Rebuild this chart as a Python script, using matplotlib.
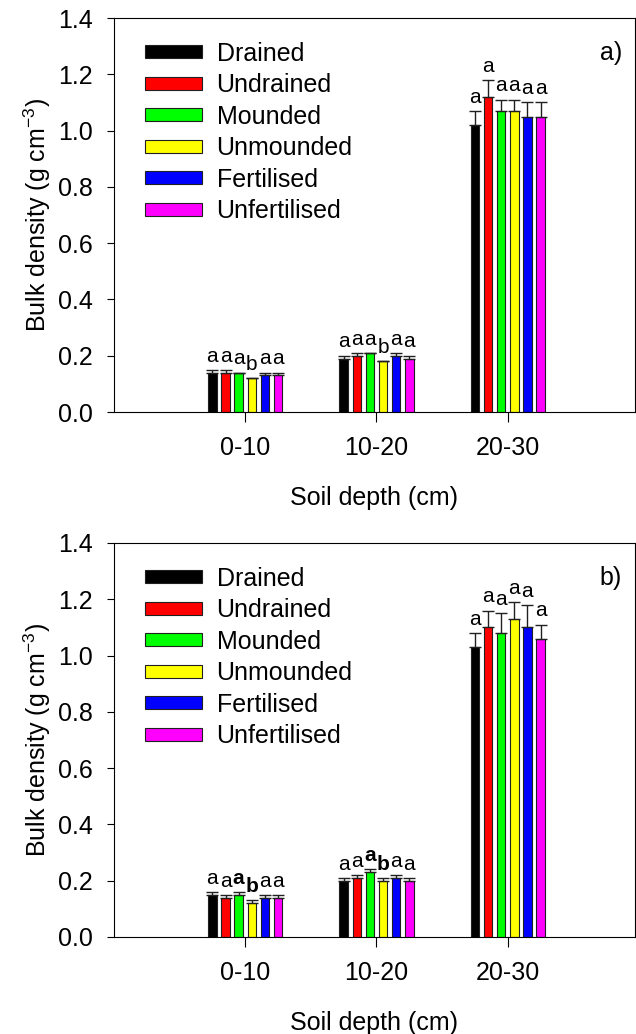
import matplotlib
matplotlib.use('Agg')
import matplotlib.pyplot as plt
import numpy as np

plt.rcParams['font.family'] = ['Liberation Sans', 'DejaVu Sans']
plt.rcParams['mathtext.fontset'] = 'custom'
plt.rcParams['mathtext.rm'] = 'Liberation Sans'

depths = ['0-10', '10-20', '20-30']
treatments = ['Drained', 'Undrained', 'Mounded', 'Unmounded', 'Fertilised', 'Unfertilised']
colours = ['#000000', '#ff0000', '#00ff00', '#ffff00', '#0000ff', '#ff00ff']

# panel a) bulk density per treatment (rows) and depth (columns)
dens_a = [[0.14, 0.19, 1.02],
          [0.14, 0.20, 1.12],
          [0.14, 0.21, 1.07],
          [0.12, 0.18, 1.07],
          [0.13, 0.20, 1.05],
          [0.13, 0.19, 1.05]]
err_a = [[0.01, 0.01, 0.05],
         [0.01, 0.01, 0.06],
         [0.00, 0.00, 0.04],
         [0.00, 0.00, 0.04],
         [0.01, 0.01, 0.05],
         [0.01, 0.01, 0.05]]
letters_a = [['a', 'a', 'a'],
             ['a', 'a', 'a'],
             ['a', 'a', 'a'],
             ['b', 'b', 'a'],
             ['a', 'a', 'a'],
             ['a', 'a', 'a']]

# panel b)
dens_b = [[0.15, 0.20, 1.03],
          [0.14, 0.21, 1.10],
          [0.15, 0.23, 1.08],
          [0.12, 0.20, 1.13],
          [0.14, 0.21, 1.10],
          [0.14, 0.20, 1.06]]
err_b = [[0.01, 0.01, 0.05],
         [0.01, 0.01, 0.06],
         [0.01, 0.01, 0.07],
         [0.01, 0.01, 0.06],
         [0.01, 0.01, 0.08],
         [0.01, 0.01, 0.05]]
letters_b = [['a', 'a', 'a'],
             ['a', 'a', 'a'],
             ['a', 'a', 'a'],
             ['b', 'b', 'a'],
             ['a', 'a', 'a'],
             ['a', 'a', 'a']]
bold_b = [[False, False, False],
          [False, False, False],
          [True, True, False],
          [True, True, False],
          [False, False, False],
          [False, False, False]]


def draw_panel(ax, dens, err, letters, bold, tag):
    x = np.arange(1, len(depths) + 1)
    for i, name in enumerate(treatments):
        xi = x + (i - 2.5) * 0.1
        ax.bar(xi, dens[i], width=0.065, color=colours[i], edgecolor='#202020',
               linewidth=0.8, label=name, zorder=2)
        ax.errorbar(xi, dens[i], yerr=[np.zeros(3), err[i]], fmt='none',
                    ecolor='#202020', elinewidth=1, capsize=4, capthick=1, zorder=3)
        for j in range(len(depths)):
            w = 'bold' if bold is not None and bold[i][j] else 'normal'
            ax.text(xi[j], dens[i][j] + err[i][j] + 0.015, letters[i][j],
                    ha='center', va='bottom', fontsize=15, fontweight=w)
    ax.set_xlim(0, 3.97)
    ax.set_ylim(0, 1.4)
    ax.set_xticks(x)
    ax.set_xticklabels(depths)
    ax.set_yticks(np.arange(0, 1.41, 0.2))
    ax.set_yticklabels(['%.1f' % v for v in np.arange(0, 1.41, 0.2)])
    ax.tick_params(axis='x', direction='out', length=7, pad=10, labelsize=18)
    ax.tick_params(axis='y', direction='out', length=5, pad=10, labelsize=18)
    ax.set_xlabel('Soil depth (cm)', fontsize=18, labelpad=19)
    ax.set_ylabel('Bulk density (g cm$^{\\mathregular{-3}}$)', fontsize=18, labelpad=4)
    ax.text(0.975, 0.91, tag, transform=ax.transAxes, ha='right', va='center', fontsize=18)
    ax.legend(loc='upper left', bbox_to_anchor=(0.06, 0.94), frameon=False, fontsize=18,
              handlelength=2.25, handleheight=0.4, handletextpad=0.6, labelspacing=0.3,
              borderaxespad=0, borderpad=0)


fig = plt.figure(figsize=(6.36, 10.34), dpi=100)
ax1 = fig.add_axes([114 / 636, 1 - 412 / 1034, 521 / 636, 394 / 1034])
ax2 = fig.add_axes([114 / 636, 1 - 937 / 1034, 521 / 636, 394 / 1034])

draw_panel(ax1, dens_a, err_a, letters_a, None, 'a)')
draw_panel(ax2, dens_b, err_b, letters_b, bold_b, 'b)')

fig.savefig('out.png', dpi=100)
